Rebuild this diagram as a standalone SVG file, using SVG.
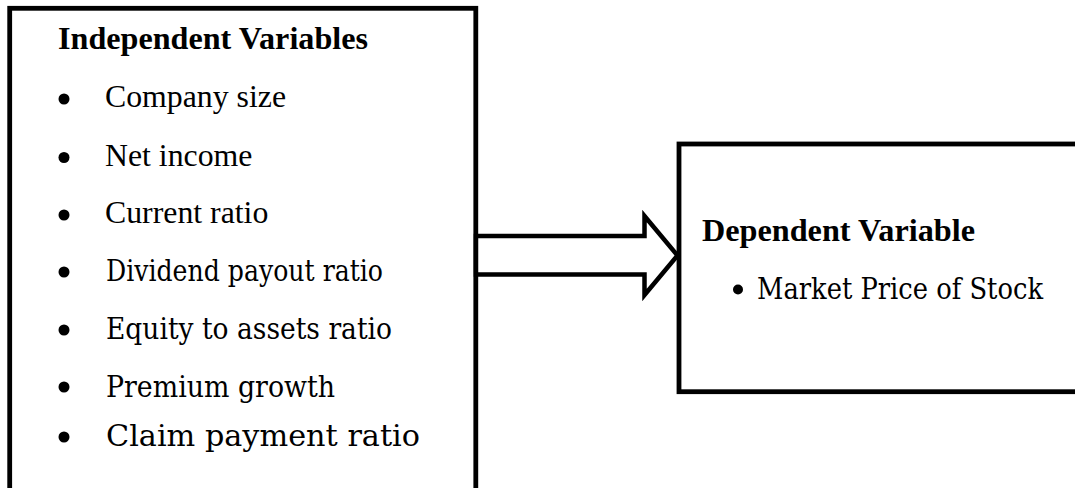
<svg xmlns="http://www.w3.org/2000/svg" width="1075" height="488" viewBox="0 0 1075 488">
<style>
.box{fill:none;stroke:#000;stroke-width:4.8;stroke-linejoin:miter}
.arrow{fill:#fff;stroke:#000;stroke-width:4.5;stroke-linejoin:miter}
.bul{fill:#000}
</style>
<rect width="1075" height="488" fill="#fff"/>
<g id="independent">
<rect class="box" x="9.7" y="8.3" width="466.1" height="500"/>
<g font-family="Liberation Serif, serif" font-size="31.8" fill="#000">
<text x="58" y="49" font-weight="bold" textLength="310" lengthAdjust="spacingAndGlyphs">Independent Variables</text>
<text x="105" y="107">Company size</text>
<text x="105" y="166">Net income</text>
<text x="105" y="223">Current ratio</text>
</g>
<circle class="bul" cx="64" cy="99" r="5.5"/>
<circle class="bul" cx="64" cy="157.5" r="5.5"/>
<circle class="bul" cx="64" cy="215" r="5.5"/>
<circle class="bul" cx="64" cy="272" r="5.5"/>
<circle class="bul" cx="64" cy="330" r="5.5"/>
<circle class="bul" cx="64" cy="387" r="5.5"/>
<circle class="bul" cx="64" cy="437" r="5.5"/>
<g font-family="DejaVu Serif, serif" font-size="29" fill="#000">
<text x="106" y="281" textLength="277" lengthAdjust="spacingAndGlyphs">Dividend payout ratio</text>
<text x="106" y="339" textLength="286" lengthAdjust="spacingAndGlyphs">Equity to assets ratio</text>
<text x="106" y="397" textLength="229" lengthAdjust="spacingAndGlyphs">Premium growth</text>
<text x="106" y="446" textLength="314" lengthAdjust="spacingAndGlyphs">Claim payment ratio</text>
</g>
</g>
<g id="connectors">
<polygon class="arrow" points="476,236 644.5,236 644.5,216 677.5,255.5 644.5,295 644.5,274.5 476,274.5"/>
</g>
<g id="dependent">
<rect class="box" x="679" y="144" width="420" height="247.7"/>
<text x="702" y="241" font-family="Liberation Serif, serif" font-weight="bold" font-size="31.8" textLength="273" lengthAdjust="spacingAndGlyphs">Dependent Variable</text>
<circle class="bul" cx="738" cy="289.5" r="5"/>
<text x="757" y="299" font-family="DejaVu Serif, serif" font-size="29" textLength="286" lengthAdjust="spacingAndGlyphs">Market Price of Stock</text>
</g>
</svg>
